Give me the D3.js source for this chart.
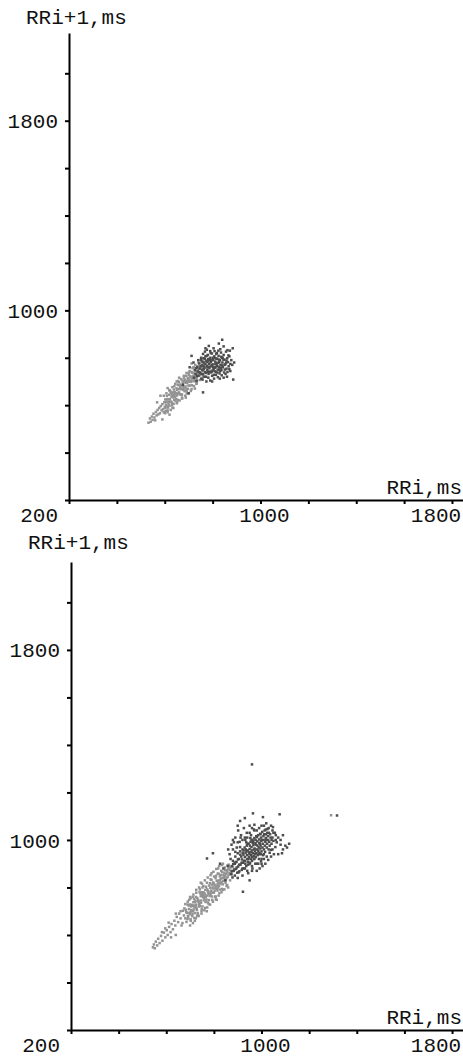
<!DOCTYPE html>
<html>
<head>
<meta charset="utf-8">
<script src="https://cdn.jsdelivr.net/npm/d3@7"></script>
<style>
body { margin: 0; background: #fff; }
svg { display: block; }
text { font-family: "Liberation Mono", "DejaVu Sans Mono", monospace; font-size: 21px; fill: #111; }
</style>
</head>
<body>
<svg id="chart" width="463" height="1058"></svg>
<script>
// axis ticks (ms) and which of them carry a label
var xTicks = [200, 400, 600, 800, 1000, 1200, 1400, 1600, 1800];
var yTicks = [200, 400, 600, 800, 1000, 1200, 1400, 1600, 1800, 2000];
var xLabels = [1000, 1800];
var yLabels = [1000, 1800];
var cornerLabel = "200";
var xTitle = "RRi,ms";
var yTitle = "RRi+1,ms";

// top plot: [RRi, RRi+1] in ms
var topLight = [
  [532,526],[538,544],[541,530],[546,552],[549,538],[553,564],[557,548],[560,536],[563,571],[566,557],
  [570,580],[573,561],[577,588],[580,566],[583,596],[587,578],[590,604],[593,583],[596,570],[598,612],
  [600,592],[602,624],[604,576],[606,612],[609,639],[611,595],[613,625],[615,613],[618,644],[620,598],
  [622,626],[624,658],[627,615],[629,647],[631,601],[633,641],[636,632],[638,666],[640,622],[642,656],
  [645,619],[647,649],[649,671],[651,641],[654,686],[656,622],[658,668],[660,654],[663,687],[665,645],
  [667,683],[669,667],[672,644],[674,704],[676,682],[678,664],[681,701],[683,659],[685,697],[687,679],
  [690,724],[692,660],[694,694],[696,714],[699,683],[701,727],[703,699],[705,683],[708,718],[710,698],
  [712,740],[714,684],[717,721],[719,735],[721,701],[723,717],[726,748],[728,702],[730,738],[732,718],
  [735,765],[737,735],[739,753],
  [603,589],[608,624],[612,578],[617,625],[621,615],[626,652],[630,610],[634,654],[639,641],[643,635],
  [648,626],[652,664],[657,685],[661,647],[666,670],[670,646],[675,693],[679,675],[684,708],[688,670],
  [693,703],[697,669],[702,702],[706,722],[711,703],[715,737],[720,722],[724,708],[729,743],[733,709],
  [738,744],
  [742,732],[745,765],[748,726],[751,755],[754,780],[758,744],[762,772],[766,762],[771,789],[776,756],
  [782,788],[788,780],
  [596,640],[601,566],[607,650],[614,590],[619,663],[625,580],[632,676],[637,606],[644,690],[650,608],
  [655,702],[662,620],[668,710],[673,628],[680,724],[686,640],[691,736],[698,650],[704,744],[709,660],
  [716,756],[722,680],[727,770],[734,692],[741,780],[746,706],[753,792],[760,720],
  [605,600],[616,604],[628,636],[641,646],[653,650],[664,676],[677,670],[689,694],[700,710],[713,712],
  [725,732],[736,728],[749,760],[760,758],
  [620,664],[640,680],[660,698],[680,716],[700,736],[720,760],[612,570],[632,590],[652,612],[672,632],
  [692,650],[712,668],[732,690],[752,710],
  [568,612],[590,540],[612,672],[636,588],[660,716],[688,632],[712,776],[726,670],[650,700],[620,560],[582,640]
];
var topDark = [
  [722,716],[726,748],[729,730],[733,702],[736,760],[738,742],[741,724],[744,776],[746,754],[748,736],
  [751,790],[753,712],[755,768],[757,748],[760,730],[762,798],[764,780],[766,758],[768,740],[770,806],
  [772,720],[774,786],[776,766],[778,748],[780,812],[781,794],[783,732],[785,774],[787,756],[789,800],
  [791,738],[793,782],[795,764],[797,818],[799,746],[801,790],[803,772],[805,728],[807,806],[809,758],
  [811,784],[813,740],[815,816],[817,768],[819,796],[821,750],[823,778],[825,808],[827,760],[829,734],
  [831,790],[833,770],[835,822],[837,748],[839,800],[841,780],[843,760],[846,812],[848,738],[850,792],
  [853,772],[856,826],[858,754],[861,798],[864,782],[867,764],[870,806],[874,744],[878,790],[882,770],
  [730,756],[735,722],[740,790],[745,740],[750,764],[754,732],[758,784],[763,752],[767,796],[771,736],
  [775,808],[779,760],[784,790],[788,742],[792,820],[796,770],[800,800],[804,752],[808,828],[812,774],
  [816,796],[820,764],[824,830],[828,782],[832,744],[836,804],[840,768],[845,792],[851,750],[856,778],
  [758,708],[766,720],[774,700],[782,716],[790,704],[798,724],[806,712],[814,728],[822,718],[830,712],
  [838,726],[846,716],[854,732],[862,740],[870,752],
  [762,766],[770,774],[778,782],[786,762],[794,790],[802,760],[810,798],[818,778],[826,792],[834,758],
  [842,800],[850,770],[858,788],[866,810],[874,774],
  [752,800],[760,816],[768,826],[776,834],[790,828],[804,840],[818,820],[832,836],[846,848],[862,832],
  [796,740],[808,744],[820,738],[780,740],[812,760],[828,750],
  [676,686],[700,650],[704,760],[712,808],[747,884],[760,654],[784,850],[798,700],[826,860],[860,720],
  [886,708],[884,840],[872,830],[890,780],[840,876],[770,840],[720,780]
];

// bottom plot
var bottomLight = [
  [544,548],[548,560],[552,544],[556,572],[562,556],[566,584],[572,566],[578,596],[584,576],[590,610],
  [596,590],[602,620],[606,600],[612,634],[618,612],[622,646],[628,624],[634,660],[638,640],[644,676],
  [650,654],[654,690],[660,670],[664,640],[670,702],[674,682],[640,600],[610,652],[596,628],[582,612],
  [680,670],[682,706],[685,655],[687,693],[690,728],[692,674],[695,709],[697,693],[700,728],[702,666],
  [705,705],[707,727],[710,688],[712,722],[715,707],[717,751],[720,692],[722,738],[725,727],[727,711],
  [730,756],[732,692],[735,743],[737,731],[740,780],[742,722],[745,763],[747,745],[750,780],[752,720],
  [755,759],[757,779],[760,746],[762,774],[765,739],[767,803],[770,766],[772,792],[775,737],[777,783],
  [780,808],[782,764],[785,799],[787,779],[790,832],[792,762],[795,797],[797,821],[800,778],[802,812],
  [805,761],[807,839],[810,804],[812,828],[815,787],[817,817],[820,858],[822,806],[825,847],[827,791],
  [830,838],[832,822],[835,865],[837,813],[840,852],[843,839],[846,872],[849,819],[852,856],[855,873],
  [858,844],[862,896],[866,860],[870,884],[875,855],[880,886],
  [684,696],[689,667],[694,724],[699,687],[704,720],[709,679],[714,738],[719,717],[724,760],[729,705],
  [734,748],[739,727],[744,774],[749,709],[754,764],[759,755],[764,790],[769,749],[774,786],[779,747],
  [784,818],[789,787],[794,778],[799,817],[804,796],[809,849],[814,794],[819,829],[824,820],[829,853],
  [834,794],[839,827],[844,860],[850,830],[856,892],[862,854],
  [696,748],[703,660],[711,760],[718,672],[726,778],[733,686],[741,792],[748,700],[756,806],[763,714],
  [771,820],[778,730],[786,834],[793,748],[801,846],[808,762],[816,858],[823,776],[831,870],[838,790],
  [846,884],[853,806],[861,880],[868,830],
  [706,700],[716,724],[726,716],[736,740],[746,736],[756,768],[766,760],[776,778],[786,770],[796,800],
  [806,808],[816,812],[826,832],[836,840],[846,848],[856,866],[866,874],[876,870],
  [691,680],[701,694],[713,700],[723,744],[738,720],[751,772],[763,762],[779,772],[791,812],[803,786],
  [817,800],[828,816],[842,842],[853,840],[871,866],
  [700,640],[712,650],[724,670],[736,680],[748,690],[760,704],[772,716],[784,728],[796,740],[808,750],
  [820,766],[832,780],[844,792],[856,810],
  [690,740],[702,754],[714,770],[726,790],[738,800],[750,816],[762,830],[774,842],[786,852],[798,866],
  [810,878],[822,890],[834,894],[660,700],[668,650],[676,712],[640,690],[620,590],
  [700,760],[720,660],[745,820],[770,700],[790,860],[812,748],[838,900],[860,800],[752,800],[730,680],
  [680,730],[818,880],[1292,1104]
];
var bottomDark = [
  [872,856],[875,890],[878,842],[880,912],[883,870],[885,900],[888,850],[890,930],[893,878],[895,908],
  [898,862],[900,944],[902,888],[905,920],[907,868],[910,952],[912,896],[915,930],[917,874],[920,960],
  [922,904],[924,938],[927,880],[929,968],[931,912],[933,946],[936,890],[938,976],[940,920],[942,956],
  [944,896],[946,984],[948,928],[950,962],[952,904],[954,992],[956,936],[958,970],[960,912],[962,1000],
  [964,944],[966,978],[968,920],[970,1008],[972,952],[974,986],[976,928],[978,1016],[980,960],[982,994],
  [984,936],[986,1020],[988,968],[990,1002],[992,944],[994,1026],[996,976],[998,1010],[1000,952],[1003,1034],
  [1005,984],[1008,1016],[1010,960],[1013,1040],[1016,992],[1019,1024],[1022,968],[1025,1046],[1028,1000],[1031,1030],
  [1034,976],[1038,1010],[1042,984],[1046,1040],[1050,996],
  [876,868],[881,898],[886,876],[891,906],[896,884],[901,918],[906,896],[911,938],[916,904],[921,946],
  [926,912],[930,928],[934,960],[939,936],[943,908],[947,948],[951,976],[955,920],[959,956],[963,988],
  [967,932],[971,964],[975,1000],[979,944],[983,976],[987,952],[991,988],[995,964],[999,996],[1004,968],
  [1009,1000],[1014,976],[1018,1008],[1023,984],[1027,1016],[1032,992],[1036,1024],
  [918,918],[925,956],[932,900],[937,952],[941,984],[945,920],[949,940],[953,1008],[957,948],[961,928],
  [965,996],[969,960],[973,940],[977,980],[981,1012],[985,956],[989,920],[993,984],[997,940],[1001,1000],
  [1006,936],[1011,1024],[1015,950],[1020,1000],[1024,1030],
  [880,960],[884,990],[890,1010],[896,968],[902,1040],[908,992],[914,1020],[920,880],[926,1050],[932,1000],
  [938,1030],[944,860],[950,1060],[956,1020],[962,880],[968,1044],[974,900],[980,870],[986,900],[992,880],
  [998,910],[1004,890],[1010,920],[1016,900],[1022,930],[1028,916],[1034,946],[1040,958],[1046,960],[1052,940],
  [1058,970],[1064,990],[1070,1010],[1050,1030],[1030,1050],[1010,1060],[990,1050],[970,1040],[950,1030],[930,1010],
  [910,970],[890,950],[870,920],[860,890],[866,940],[874,980],[900,990],[920,1000],[940,1010],[960,1050],
  [980,1040],[1000,1060],[1020,1070],[1040,1060],[1060,1000],[1080,980],[1090,1020],[1000,920],[980,900],[960,890],
  [940,870],[920,850],[900,840],[970,920],[990,940],[1010,940],[1030,960],[950,900],[930,880],[1046,1010],
  [1056,1030],[904,864],[888,900],[912,1010],[936,990],[958,1000],[996,1024],[1018,1044],[1042,1000],
  [910,1080],[930,1092],[1006,1096],[1048,1054],[1090,960],[1100,976],[1086,944],[1107,968],[922,782],[950,830],
  [796,944],[771,922],[840,880],[860,960],[880,1000],[900,1060],[970,1064],[1060,1020],[1070,940],[1040,930],
  [1000,900],[960,870],[848,830],[826,900],[1080,1000],[1116,984],[964,1112],[1076,1108],
  [960,1318],[1317,1103]
];

var lightColor = "#939393";
var darkColor = "#4d4d4d";
var dotSize = 2.5;

var svg = d3.select("#chart");

function drawPlot(svg, box, light, dark) {
    var x = d3.scaleLinear().domain([200, 1846]).range([box.left, box.right]);
    var y = d3.scaleLinear().domain([200, 2170]).range([box.bottom, box.top]);
    var g = svg.append("g");

    // points first, axes on top
    [[light, lightColor], [dark, darkColor]].forEach(function(s) {
        g.append("g").selectAll("rect")
            .data(s[0])
            .enter().append("rect")
            .attr("x", function(d) { return x(d[0]) - dotSize / 2; })
            .attr("y", function(d) { return y(d[1]) - dotSize / 2; })
            .attr("width", dotSize)
            .attr("height", dotSize)
            .attr("fill", s[1]);
    });

    g.append("g")
        .attr("transform", "translate(0," + box.bottom + ")")
        .call(d3.axisBottom(x).tickValues(xTicks).tickSize(4).tickSizeOuter(0).tickFormat(""));
    g.append("g")
        .attr("transform", "translate(" + box.left + ",0)")
        .call(d3.axisLeft(y).tickValues(yTicks).tickSize(4).tickSizeOuter(0).tickFormat(""));
    g.selectAll(".domain").attr("stroke", "#000").attr("stroke-width", 2);
    g.selectAll(".tick line").attr("stroke", "#000").attr("stroke-width", 2);

    g.selectAll(".ylab")
        .data(yLabels)
        .enter().append("text")
        .attr("class", "ylab")
        .attr("x", box.left - 11)
        .attr("y", function(d) { return y(d); })
        .attr("dy", "0.36em")
        .style("text-anchor", "end")
        .text(function(d) { return d; });
    g.selectAll(".xlab")
        .data(xLabels)
        .enter().append("text")
        .attr("class", "xlab")
        .attr("x", function(d) { return Math.min(x(d) + 4, box.right - 27); })
        .attr("y", box.bottom + box.labelGap)
        .style("text-anchor", "middle")
        .text(function(d) { return d; });
    g.append("text")
        .attr("x", box.left - 11)
        .attr("y", box.bottom + box.labelGap)
        .style("text-anchor", "end")
        .text(cornerLabel);

    g.append("text")
        .attr("x", box.left - 43)
        .attr("y", box.titleY)
        .text(yTitle);
    g.append("text")
        .attr("x", box.right - 1)
        .attr("y", box.bottom - 6)
        .style("text-anchor", "end")
        .text(xTitle);
}

drawPlot(svg, {left: 69, right: 463, top: 33, bottom: 500, labelGap: 22, titleY: 24}, topLight, topDark);
drawPlot(svg, {left: 71, right: 463, top: 562, bottom: 1030, labelGap: 22, titleY: 549}, bottomLight, bottomDark);
</script>
</body>
</html>
